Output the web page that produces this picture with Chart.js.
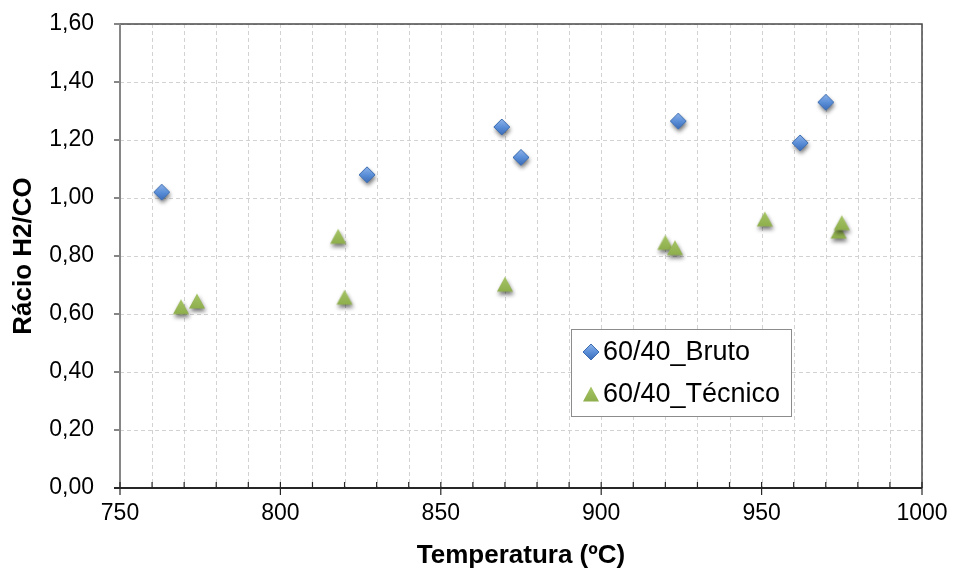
<!DOCTYPE html>
<html>
<head>
<meta charset="utf-8">
<title>Rácio H2/CO</title>
<script src="https://cdn.jsdelivr.net/npm/chart.js@4"></script>
<style>
  body{margin:0;background:#fff;}
  #wrap{width:953px;height:571px;}
</style>
</head>
<body>
<div id="wrap"><canvas id="ratioChart" width="953" height="571"></canvas></div>
<script>

const brutoLabel = "60/40_Bruto";
const brutoTemp  = [763, 827, 869, 875, 924, 962, 970];
const brutoRatio = [1.02, 1.08, 1.245, 1.14, 1.265, 1.19, 1.33];

const tecnicoLabel = "60/40_Técnico";
const tecnicoTemp  = [769, 774, 818, 820, 870, 920, 923, 951, 974, 975];
const tecnicoRatio = [0.625, 0.645, 0.868, 0.658, 0.703, 0.847, 0.829, 0.928, 0.886, 0.915];

const xTitle = "Temperatura (ºC)";
const yTitle = "Rácio H2/CO";

const FONT = "'Liberation Sans', Arial, sans-serif";

// marker bitmaps (diamond / triangle) with a soft drop shadow
function makeMarker(shape, shadow){
  const c = document.createElement("canvas");
  c.width = 30; c.height = 30;
  const g = c.getContext("2d");
  if(shadow){
    g.shadowColor = "rgba(0,0,0,0.55)";
    g.shadowBlur = 4;
    g.shadowOffsetX = 1;
    g.shadowOffsetY = 3;
  }
  g.beginPath();
  let grad;
  if(shape==="diamond"){
    g.moveTo(15,7); g.lineTo(23,15); g.lineTo(15,23); g.lineTo(7,15); g.closePath();
    grad = g.createLinearGradient(0,7,0,23);
    grad.addColorStop(0,"#8fb4ea");
    grad.addColorStop(0.5,"#5b8fd8");
    grad.addColorStop(1,"#3c6cb8");
    g.fillStyle = grad;
    g.fill();
    g.shadowColor = "transparent";
    g.strokeStyle = "#3d6db0";
    g.lineWidth = 1;
    g.stroke();
  } else {
    g.moveTo(15,7.5); g.lineTo(23,22.5); g.lineTo(7,22.5); g.closePath();
    grad = g.createLinearGradient(0,7.5,0,22.5);
    grad.addColorStop(0,"#a6c566");
    grad.addColorStop(1,"#8eae4c");
    g.fillStyle = grad;
    g.fill();
  }
  return c;
}

const diamondImg  = makeMarker("diamond", true);
const triangleImg = makeMarker("triangle", true);
const diamondKey  = makeMarker("diamond", false);
const triangleKey = makeMarker("triangle", false);

// dashed grid lines, one per tick of each scale
const dashGridPlugin = {
  id:"dashGrid",
  beforeDatasetsDraw(chart){
    const ctx = chart.ctx;
    const a = chart.chartArea;
    const xs = chart.scales.x, ys = chart.scales.y;
    ctx.save();
    ctx.strokeStyle = "#d2d2d2";
    ctx.lineWidth = 1;
    ctx.setLineDash([4,3]);
    ctx.beginPath();
    xs.ticks.forEach(t=>{
      const px = Math.round(xs.getPixelForValue(t.value)) + 0.5;
      ctx.moveTo(px, a.top); ctx.lineTo(px, a.bottom);
    });
    ys.ticks.forEach(t=>{
      const py = Math.round(ys.getPixelForValue(t.value)) + 0.5;
      ctx.moveTo(a.left, py); ctx.lineTo(a.right, py);
    });
    ctx.stroke();
    ctx.restore();
  }
};

// axis frame, tick marks and the boxed legend inside the plot
const framePlugin = {
  id:"frame",
  afterDraw(chart){
    const ctx = chart.ctx;
    const a = chart.chartArea;
    const xs = chart.scales.x, ys = chart.scales.y;
    ctx.save();

    // top + right border
    ctx.strokeStyle = "#4a4a4a";
    ctx.lineWidth = 1.5;
    ctx.beginPath();
    ctx.moveTo(a.left, a.top); ctx.lineTo(a.right, a.top); ctx.lineTo(a.right, a.bottom);
    ctx.stroke();

    // y axis + ticks
    ctx.strokeStyle = "#868686";
    ctx.lineWidth = 2;
    ctx.beginPath();
    ctx.moveTo(a.left, a.top); ctx.lineTo(a.left, a.bottom);
    ys.ticks.forEach(t=>{
      const py = ys.getPixelForValue(t.value);
      ctx.moveTo(a.left-6, py); ctx.lineTo(a.left, py);
    });
    ctx.stroke();

    // x axis + ticks (minor inside, major crossing)
    ctx.strokeStyle = "#262626";
    ctx.lineWidth = 2;
    ctx.beginPath();
    ctx.moveTo(a.left-6, a.bottom); ctx.lineTo(a.right, a.bottom);
    ctx.stroke();
    ctx.lineWidth = 1.2;
    ctx.beginPath();
    xs.ticks.forEach(t=>{
      const px = xs.getPixelForValue(t.value);
      const major = t.value % 50 === 0;
      ctx.moveTo(px, a.bottom-6); ctx.lineTo(px, major ? a.bottom+7 : a.bottom);
    });
    ctx.stroke();

    // legend
    const L = chart.options.plugins.frame;
    ctx.fillStyle = "#fff";
    ctx.fillRect(L.x, L.y, L.w, L.h);
    ctx.strokeStyle = "#8c8c8c";
    ctx.lineWidth = 1;
    ctx.strokeRect(L.x+0.5, L.y+0.5, L.w, L.h);
    ctx.font = L.fontSize + "px " + FONT;
    ctx.fillStyle = "#000";
    ctx.textBaseline = "middle";
    ctx.textAlign = "left";
    const keys = [diamondKey, triangleKey];
    chart.data.datasets.forEach((ds,i)=>{
      const cy = L.y + L.rowTop + i*L.rowGap;
      ctx.drawImage(keys[i], L.markerX-15, cy-15);
      ctx.fillText(ds.label, L.textX, cy+1);
    });

    ctx.restore();
  }
};

const chart = new Chart(document.getElementById("ratioChart"),{
  type:"scatter",
  data:{
    datasets:[
      {
        label:brutoLabel,
        data:brutoTemp.map((t,i)=>({x:t, y:brutoRatio[i]})),
        pointStyle:diamondImg,
        pointRadius:8,
        backgroundColor:"#5b8fd8",
        borderColor:"#3d6db0"
      },
      {
        label:tecnicoLabel,
        data:tecnicoTemp.map((t,i)=>({x:t, y:tecnicoRatio[i]})),
        pointStyle:triangleImg,
        pointRadius:8,
        backgroundColor:"#9bbb59",
        borderColor:"#9bbb59"
      }
    ]
  },
  options:{
    responsive:false,
    animation:false,
    devicePixelRatio:1,
    layout:{padding:{top:24, right:31, left:0, bottom:0}},
    plugins:{
      legend:{display:false},
      tooltip:{enabled:false},
      frame:{x:571, y:329, w:220, h:87, rowTop:23, rowGap:42, markerX:591, textX:603, fontSize:27}
    },
    scales:{
      x:{
        type:"linear",
        min:750, max:1000,
        afterFit(s){ s.height = 83; },
        border:{display:false},
        grid:{color:"transparent", drawTicks:true, tickLength:8, tickColor:"transparent"},
        ticks:{
          stepSize:10,
          autoSkip:false,
          maxRotation:0,
          padding:4,
          color:"#000",
          font:{family:FONT, size:23},
          callback:v => v % 50 === 0 ? String(v) : ""
        },
        title:{display:true, text:xTitle, color:"#000",
          font:{family:FONT, size:26, weight:"bold"}, padding:{top:0, bottom:0}}
      },
      y:{
        min:0, max:1.6,
        afterFit(s){ s.width = 120; },
        border:{display:false},
        grid:{color:"transparent", drawTicks:true, tickLength:22, tickColor:"transparent"},
        ticks:{
          stepSize:0.2,
          padding:4,
          color:"#000",
          font:{family:FONT, size:23},
          callback:v => v.toFixed(2).replace(".", ",")
        },
        title:{display:true, text:yTitle, color:"#000",
          font:{family:FONT, size:26, weight:"bold"}, padding:{top:8, bottom:0}}
      }
    }
  },
  plugins:[dashGridPlugin, framePlugin]
});
</script>
</body>
</html>
